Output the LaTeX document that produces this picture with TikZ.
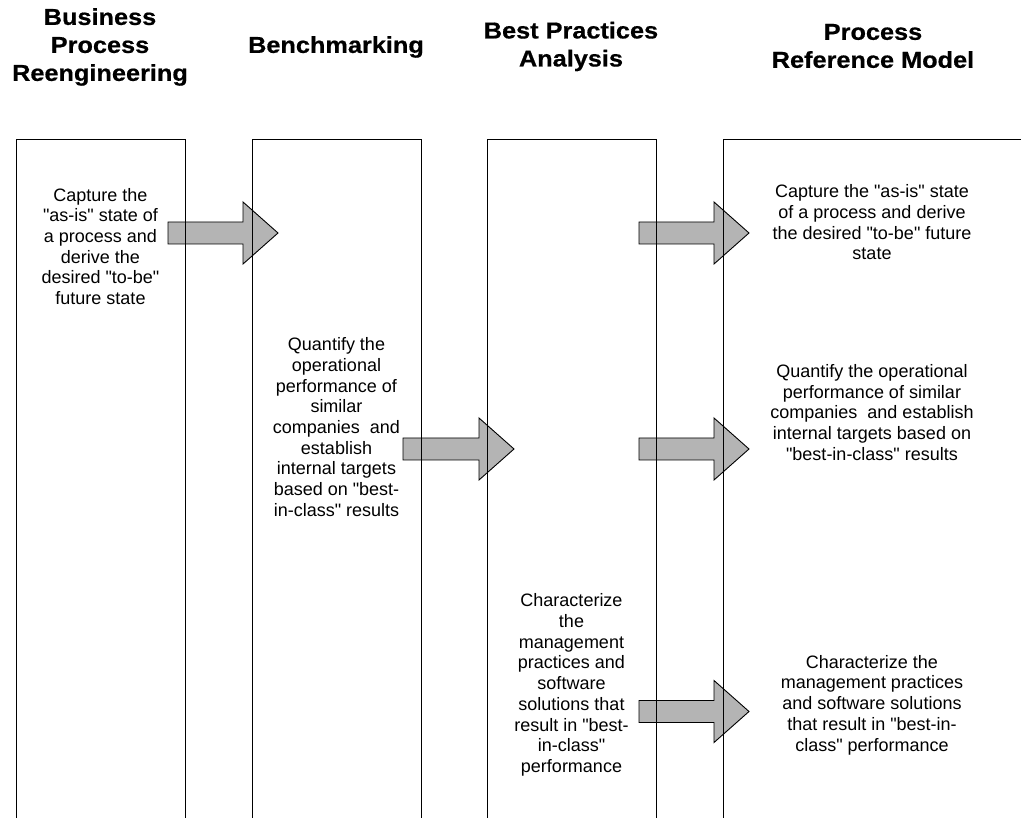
\documentclass[tikz,border=0pt]{standalone}
\usepackage{fontspec}
\setmainfont{Liberation Sans}[Ligatures=TeXOff]
\newfontfamily\headfont{Liberation Sans}[FakeStretch=1.1,FakeBold=0.6,Ligatures=TeXOff]
\usetikzlibrary{calc}
\definecolor{arrowgray}{RGB}{180,180,180}
\tikzset{
  heading/.style={font=\headfont\bfseries\fontsize{23}{28}\selectfont, align=center, inner sep=0pt},
  body/.style={font=\fontsize{18}{20.7}\selectfont, align=center, inner sep=0pt},
  lane/.style={draw=black, line width=1pt, anchor=north west, inner sep=0pt, outer sep=0pt},
  blockarrow/.style={fill=arrowgray, draw=black, line width=0.9pt, line join=miter,
    to path={let \p1=(\tikztostart), \p2=(\tikztotarget) in
      (\x1,\y1+11) -- (\x2-35,\y1+11) -- (\x2-35,\y1+31) -- (\x2,\y2)
      -- (\x2-35,\y1-31) -- (\x2-35,\y1-11) -- (\x1,\y1-11) -- cycle}}
}
\begin{document}
\begin{tikzpicture}[x=1pt,y=-1pt]
\useasboundingbox (0,0) rectangle (1021,818);
\fill[white] (0,0) rectangle (1021,818);

% column headings
\node[heading] (h1) at (100,47) {Business\\Process\\Reengineering};
\node[heading] (h2) at (336,47) {Benchmarking};
\node[heading] (h3) at (571,46.5) {Best Practices\\Analysis};
\node[heading] (h4) at (873,46) {Process\\Reference Model};

% block arrows (tail and tip points)
\coordinate (a1t) at (168,233);   \coordinate (a1h) at (278,233);
\coordinate (a2t) at (403,449);   \coordinate (a2h) at (514,449);
\coordinate (a3t) at (639,233);   \coordinate (a3h) at (749,233);
\coordinate (a4t) at (639,449);   \coordinate (a4h) at (749,449);
\coordinate (a5t) at (639,711.5); \coordinate (a5h) at (749,711.5);
\foreach \i in {1,...,5}{
  \path[blockarrow] (a\i t) to (a\i h);
}

% swim lanes, open at the bottom
\begin{scope}
\clip (0,0) rectangle (1021,818);
\node[lane, minimum width=169pt, minimum height=720pt] (lane1) at (16,140) {};
\node[lane, minimum width=169pt, minimum height=720pt] (lane2) at (252,140) {};
\node[lane, minimum width=169pt, minimum height=720pt] (lane3) at (487,140) {};
\node[lane, minimum width=320pt, minimum height=720pt] (lane4) at (723,140) {};
\end{scope}

% lane texts
\node[body] (t1) at (100.5,246.5) {Capture the\\"as-is" state of\\a process and\\derive the\\desired "to-be"\\future state};
\node[body] (t2) at (336.5,427) {Quantify the\\operational\\performance of\\similar\\companies\ \ and\\establish\\internal targets\\based on "best-\\in-class" results};
\node[body] (t3) at (571.5,685) {Characterize\\the\\management\\practices and\\software\\solutions that\\result in "best-\\in-class"\\performance};
\node[body] (t4a) at (872,222.5) {Capture the "as-is" state\\of a process and derive\\the desired "to-be" future\\state};
\node[body] (t4b) at (872,412.5) {Quantify the operational\\performance of similar\\companies\ \ and establish\\internal targets based on\\"best-in-class" results};
\node[body] (t4c) at (872,705) {Characterize the\\management practices\\and software solutions\\that result in "best-in-\\class" performance};
\end{tikzpicture}
\end{document}
